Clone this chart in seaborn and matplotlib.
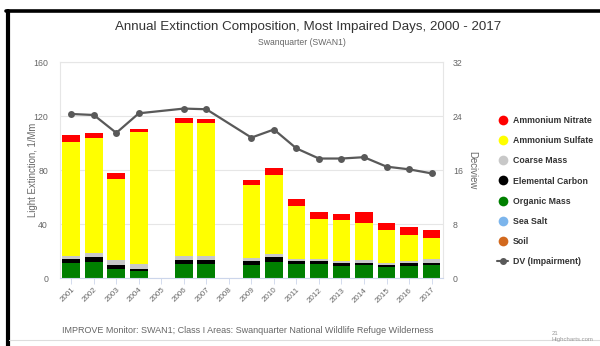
import numpy as np
import pandas as pd
import matplotlib
matplotlib.use("Agg")
import matplotlib.pyplot as plt
import seaborn as sns
from matplotlib.lines import Line2D

sns.set_theme(style="white")
plt.rcParams["font.family"] = ["Liberation Sans", "DejaVu Sans"]

# ===============================
# Data
# ===============================

years = [str(y) for y in range(2001, 2018)]

organic_mass = [11.1, 11.9, 6.4, 4.9, np.nan, 10.4, 10.4, np.nan, 9.4, 11.6, 9.9, 9.9, 8.6, 9.1, 8.1, 8.6, 9.1]
elemental_carbon = [3.0, 3.1, 3.2, 1.8, np.nan, 2.9, 2.9, np.nan, 2.6, 3.5, 2.2, 2.2, 2.0, 2.0, 1.5, 2.0, 2.0]
coarse_mass = [1.9, 3.0, 3.2, 3.2, np.nan, 2.7, 2.7, np.nan, 2.8, 2.4, 2.0, 2.0, 1.7, 1.9, 1.5, 1.5, 2.5]
sea_salt = [0.1, 0.1, 0.1, 0.1, np.nan, 0.1, 0.1, np.nan, 0.1, 0.1, 0.1, 0.1, 0.1, 0.1, 0.1, 0.1, 0.1]
soil = [0.2, 0.2, 0.2, 0.2, np.nan, 0.2, 0.2, np.nan, 0.2, 0.2, 0.2, 0.2, 0.2, 0.2, 0.2, 0.2, 0.2]
ammonium_sulfate = [84.5, 85.7, 60.5, 98.0, np.nan, 98.8, 98.3, np.nan, 53.6, 58.3, 39.0, 29.6, 30.2, 27.7, 23.9, 19.3, 15.5]
ammonium_nitrate = [4.9, 3.7, 4.5, 2.5, np.nan, 3.7, 3.5, np.nan, 3.6, 5.7, 4.9, 4.9, 4.9, 7.9, 5.7, 6.4, 6.2]
dv_impairment = [24.3, 24.15, 21.5, 24.4, np.nan, 25.1, 25.0, np.nan, 20.8, 22.0, 19.2, 17.7, 17.7, 17.9, 16.5, 16.1, 15.5]

# stack order from bottom to top
layers = [
    ("Soil", soil, "#d2691e"),
    ("Sea Salt", sea_salt, "#7cb5ec"),
    ("Organic Mass", organic_mass, "#008000"),
    ("Elemental Carbon", elemental_carbon, "#000000"),
    ("Coarse Mass", coarse_mass, "#c8c8c8"),
    ("Ammonium Sulfate", ammonium_sulfate, "#ffff00"),
    ("Ammonium Nitrate", ammonium_nitrate, "#ff0000"),
]

df = pd.DataFrame({"Year": years})
running = np.zeros(len(years))
for name, vals, color in layers:
    running = running + np.array(vals, dtype=float)
    df[name + "_cum"] = running

# ===============================
# Figure
# ===============================

fig = plt.figure(figsize=(6.0, 3.46), dpi=100)
ax = fig.add_axes([0.1, 0.1965, 0.638, 0.6243])

grid_color = "#e6e6e6"
text_gray = "#666666"

# draw cumulative bars from top layer down so they stack visually
for name, vals, color in reversed(layers):
    sns.barplot(
        data=df,
        x="Year",
        y=name + "_cum",
        order=years,
        color=color,
        width=0.79,
        saturation=1,
        edgecolor="none",
        linewidth=0,
        ax=ax,
        zorder=2,
    )

ax.set_ylim(0, 160)
ax.set_yticks([0, 40, 80, 120, 160])
ax.set_xlim(-0.5, len(years) - 0.5)
ax.yaxis.grid(True, color=grid_color, linewidth=0.8, zorder=0)
ax.set_axisbelow(True)
for s in ["top", "left", "right"]:
    ax.spines[s].set_color(grid_color)
    ax.spines[s].set_linewidth(0.8)
ax.spines["bottom"].set_color("#ccd6eb")
ax.spines["bottom"].set_linewidth(0.8)

ax.set_xlabel("")
ax.set_ylabel("Light Extinction, 1/Mm", fontsize=6.9, color=text_gray,
              rotation=90, ha="center", va="center")
ax.yaxis.set_label_coords(-0.0705, 0.5)
ax.tick_params(axis="y", length=0, labelsize=6.3, labelcolor=text_gray, pad=8.6)
ax.tick_params(axis="x", length=4, width=0.6, color="#ccd6eb", direction="out",
               labelsize=5.8, labelcolor=text_gray, pad=2, bottom=True)
plt.setp(ax.get_xticklabels(), rotation=45, ha="right", rotation_mode="anchor")

# ===============================
# DV line on right axis
# ===============================

ax2 = ax.twinx()
line_df = pd.DataFrame({"pos": np.arange(len(years)), "dv": dv_impairment}).dropna()
sns.lineplot(
    data=line_df,
    x="pos",
    y="dv",
    color="#595959",
    linewidth=1.6,
    marker="o",
    markersize=5,
    markeredgewidth=0,
    ax=ax2,
    zorder=3,
)
ax2.set_ylim(0, 32)
ax2.set_yticks([0, 8, 16, 24, 32])
ax2.set_xlim(-0.5, len(years) - 0.5)
ax2.set_ylabel("Deciview", fontsize=6.9, color=text_gray, rotation=-90,
               ha="center", va="center")
ax2.yaxis.set_label_coords(1.076, 0.5)
ax2.set_xlabel("")
ax2.tick_params(axis="y", length=0, labelsize=6.3, labelcolor=text_gray, pad=7.2)
for s in ax2.spines.values():
    s.set_visible(False)

# ===============================
# Legend
# ===============================

handles = []
labels = []
for name, vals, color in reversed(layers):
    handles.append(Line2D([], [], marker="o", linestyle="none", markersize=7,
                          markerfacecolor=color, markeredgewidth=0))
    labels.append(name)
handles.append(Line2D([], [], color="#595959", linewidth=1.5, marker="o", markersize=4))
labels.append("DV (Impairment)")

fig.legend(handles, labels, loc="upper left", bbox_to_anchor=(0.823, 0.675),
           frameon=False, prop={"size": 6.3, "weight": "bold"}, labelcolor="#333333",
           handlelength=1.2, handletextpad=0.6, labelspacing=1.28, borderaxespad=0)

# ===============================
# Titles and footer
# ===============================

fig.text(0.514, 0.923, "Annual Extinction Composition, Most Impaired Days, 2000 - 2017",
         ha="center", va="center", fontsize=9.65, color="#333333")
fig.text(0.503, 0.876, "Swanquarter (SWAN1)", ha="center", va="center",
         fontsize=6.2, color=text_gray)
fig.text(0.103, 0.046, "IMPROVE Monitor: SWAN1; Class I Areas: Swanquarter National Wildlife Refuge Wilderness",
         ha="left", va="center", fontsize=6.5, color=text_gray)
fig.text(0.92, 0.028, "21\nHighcharts.com", ha="left", va="center",
         fontsize=4.3, color="#999999", linespacing=1.4)

# frame lines like the screenshot
fig.add_artist(Line2D([0.0125, 0.0125], [0, 0.968], color="black", linewidth=3.0, transform=fig.transFigure))
fig.add_artist(Line2D([0.0105, 1.0], [0.968, 0.968], color="black", linewidth=2.6, transform=fig.transFigure))
fig.add_artist(Line2D([0.015, 1.0], [0.017, 0.017], color="#dddddd", linewidth=0.8, transform=fig.transFigure))

fig.savefig("out.png", dpi=100)
plt.close(fig)
